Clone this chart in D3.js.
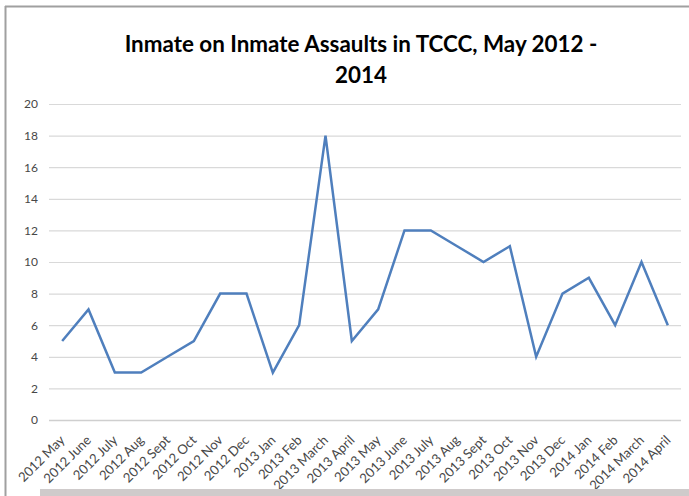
<!DOCTYPE html>
<html><head><meta charset="utf-8">
<script src="https://cdn.jsdelivr.net/npm/d3@7"></script>
<style>body{margin:0;background:#fff;} svg{display:block;}</style>
</head><body>
<svg id="c" width="689" height="496"></svg>
<script>
const categories = ["2012 May","2012  June","2012 July","2012 Aug","2012 Sept","2012 Oct","2012 Nov","2012 Dec","2013 Jan","2013 Feb","2013 March","2013 April","2013 May","2013 June","2013 July","2013 Aug","2013 Sept","2013 Oct","2013 Nov","2013 Dec","2014 Jan","2014 Feb","2014 March","2014 April"];
const assaults = [5,7,3,3,4,5,8,8,3,6,18,5,7,12,12,11,10,11,4,8,9,6,10,6];
const yTicks = [0,2,4,6,8,10,12,14,16,18,20];
const titleLines = ["Inmate on Inmate Assaults in TCCC, May 2012 -","2014"];

const svg = d3.select("#c");
const font = "Lato, 'Open Sans', sans-serif";

// frame
svg.append("line").attr("x1",5).attr("x2",689).attr("y1",6.5).attr("y2",6.5).attr("stroke","#a0a0a0").attr("stroke-width",2);
svg.append("line").attr("x1",5.5).attr("x2",5.5).attr("y1",6).attr("y2",496).attr("stroke","#a0a0a0").attr("stroke-width",2);

const pLeft = 49, pRight = 681, pTop = 104, pBottom = 420;
const x = d3.scalePoint().domain(categories).range([pLeft, pRight]).padding(0.5);
const y = d3.scaleLinear().domain([0,20]).range([pBottom, pTop]);

// gridlines
svg.append("g").selectAll("line").data(yTicks).join("line")
  .attr("x1",pLeft).attr("x2",pRight)
  .attr("y1",d=>y(d)+0.5).attr("y2",d=>y(d)+0.5)
  .attr("stroke",d=>d===0?"#cfcfcf":"#d9d9d9").attr("stroke-width",d=>d===0?1.5:1.2);

// y axis labels
const yAxis = d3.axisLeft(y).tickValues(yTicks).tickSize(0).tickPadding(0);
const gy = svg.append("g").attr("transform",`translate(${pLeft-11},0)`).call(yAxis);
gy.select(".domain").remove();
gy.selectAll("text").attr("font-family",font).attr("font-size",12).attr("fill","#474747");

// x axis labels
const xAxis = d3.axisBottom(x).tickSize(0).tickPadding(0);
const gx = svg.append("g").attr("transform",`translate(0,${pBottom})`).call(xAxis);
gx.select(".domain").remove();
gx.selectAll("text")
  .attr("font-family",font).attr("font-size",13.2).attr("fill","#474747")
  .attr("text-anchor","end").attr("dy",null).attr("y",0)
  .attr("transform","translate(3,21) rotate(-45)");

// line
svg.append("path").datum(assaults)
  .attr("fill","none").attr("stroke","#4f7fbd").attr("stroke-width",2.5)
  .attr("stroke-linejoin","miter")
  .attr("d", d3.line().x((d,i)=>x(categories[i])).y(d=>y(d)));

// title
svg.append("g").selectAll("text").data(titleLines).join("text")
  .attr("x",361).attr("y",(d,i)=>52+i*31)
  .attr("text-anchor","middle").attr("font-family",font).attr("font-weight","bold")
  .attr("font-size",22.4).attr("fill","#000").text(d=>d);

// bottom grey band (covers label tails as in the original)
svg.append("rect").attr("x",40).attr("y",489).attr("width",649).attr("height",7).attr("fill","#cfcbcb");
</script>
</body></html>
